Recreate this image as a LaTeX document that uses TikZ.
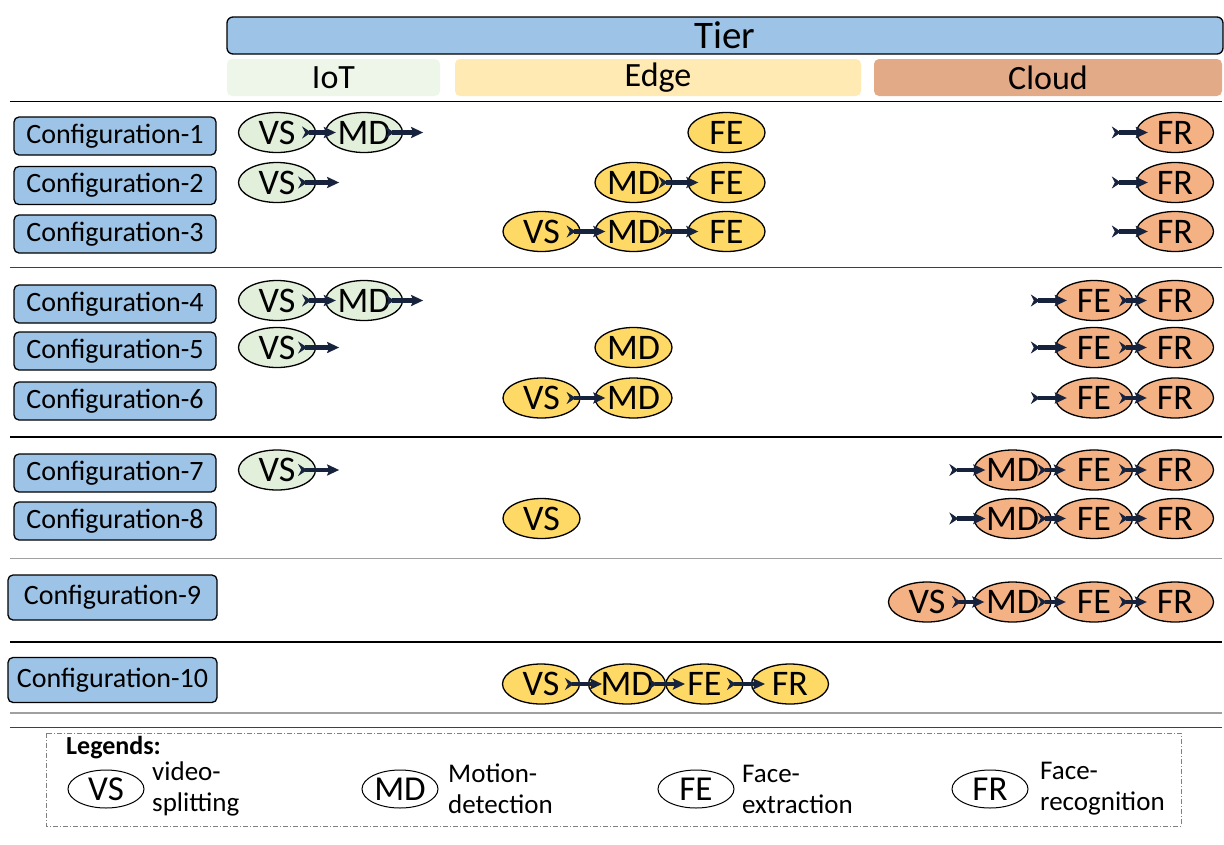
\documentclass[tikz,border=0pt]{standalone}
\usepackage{fontspec}
\setmainfont{Carlito}
\usetikzlibrary{shapes.geometric,arrows.meta,calc}
\definecolor{tierblue}{HTML}{9DC3E6}
\definecolor{iotlab}{HTML}{EEF6EA}
\definecolor{edgelab}{HTML}{FFEAB3}
\definecolor{cloudlab}{HTML}{E2AA87}
\definecolor{iotfill}{HTML}{E2EFDA}
\definecolor{edgefill}{HTML}{FFD966}
\definecolor{cloudfill}{HTML}{F4B183}
\definecolor{arrowc}{HTML}{17223D}
\definecolor{sepgray}{HTML}{A0A0A0}
\definecolor{sepdark}{HTML}{404040}
\tikzset{
  ell/.style={ellipse, draw, line width=1.3pt, minimum width=77pt, minimum height=40pt, inner sep=0pt, font=\fontsize{36}{38}\selectfont},
  iotE/.style={ell, fill=iotfill},
  edgeE/.style={ell, fill=edgefill},
  cloudE/.style={ell, fill=cloudfill},
  legE/.style={ellipse, draw, line width=1pt, fill=white, minimum width=76pt, minimum height=38pt, inner sep=0pt, font=\fontsize{35}{37}\selectfont},
  legT/.style={anchor=west, align=left, inner sep=0pt, font=\fontsize{27}{31}\selectfont},
  cfg/.style={draw, rounded corners=5pt, fill=tierblue, line width=1.3pt, minimum width=202pt, minimum height=38pt, inner sep=0pt, font=\fontsize{28}{30}\selectfont},
  cfgbig/.style={cfg, minimum width=209pt, minimum height=45pt},
  tierlab/.style={rounded corners=5pt, minimum height=37pt, inner sep=0pt, font=\fontsize{34}{36}\selectfont},
  arr/.style={draw=arrowc, line width=4.5pt, {Stealth[reversed,length=9pt,width=12pt,inset=3pt]}-{Stealth[length=12pt,width=11pt,inset=2pt]}, shorten <=-14pt, shorten >=-11pt},
  arrin/.style={arr, shorten <=0pt, shorten >=-12pt},
  arrout/.style={arr, shorten <=-18pt, shorten >=0pt},
  sep/.style={line width=1.3pt}
}
\begin{document}
\begin{tikzpicture}[x=1pt,y=-1pt]
\useasboundingbox (0,0) rectangle (1224,844);
% header
\node[draw, rounded corners=6pt, fill=tierblue, line width=1.3pt, minimum width=996pt, minimum height=37pt, inner sep=0pt, font=\fontsize{39}{41}\selectfont] (tier) at (725,35.5) {Tier};
\node[tierlab, fill=iotlab, minimum width=213pt] (tiot) at (333.5,77.5) {IoT};
\node[tierlab, fill=edgelab, minimum width=406pt] (tedge) at (658,77.5) {Edge};
\node[tierlab, fill=cloudlab, minimum width=348pt] (tcloud) at (1048,77.5) {Cloud};
% separators
\draw[sep] (10,101.5) -- (1222,101.5);
\draw[sep, draw=sepdark] (10,267.5) -- (1222,267.5);
\draw[sep] (10,437) -- (1222,437);
\draw[sep, draw=sepgray] (10,558.5) -- (1222,558.5);
\draw[sep] (10,642) -- (1222,642);
\draw[sep, draw=sepgray] (10,713) -- (1222,713);
\draw[sep, draw=sepdark] (10,727.5) -- (1222,727.5);
% configuration labels
\node[cfg] (c1) at (115,136) {Configuration-1};
\node[cfg] (c2) at (115,185.5) {Configuration-2};
\node[cfg] (c3) at (115,234) {Configuration-3};
\node[cfg] (c4) at (115,304) {Configuration-4};
\node[cfg] (c5) at (115,351) {Configuration-5};
\node[cfg] (c6) at (115,401) {Configuration-6};
\node[cfg] (c7) at (115,473) {Configuration-7};
\node[cfg] (c8) at (115,521) {Configuration-8};
\node[cfgbig] (c9) at (112.5,597.5) {Configuration-9};
\node[cfgbig] (c10) at (112.5,680) {Configuration-10};
% row 1
\node[iotE] (a1vs) at (277,132.5) {VS};
\node[iotE] (a1md) at (364,132.5) {MD};
\node[edgeE] (a1fe) at (726.5,132.5) {FE};
\node[cloudE] (a1fr) at (1175,132.5) {FR};
\coordinate (a1o) at ($(a1md.east)+(20,0)$);
\coordinate (a1i) at ($(a1fr.west)+(-24,0)$);
\draw[arr] (a1vs.east) -- (a1md.west);
\draw[arrout] (a1md.east) -- (a1o);
\draw[arrin] (a1i) -- (a1fr.west);
% row 2
\node[iotE] (a2vs) at (277,182.5) {VS};
\node[edgeE] (a2md) at (633.5,182.5) {MD};
\node[edgeE] (a2fe) at (726.5,182.5) {FE};
\node[cloudE] (a2fr) at (1175,182.5) {FR};
\coordinate (a2o) at ($(a2vs.east)+(23,0)$);
\coordinate (a2i) at ($(a2fr.west)+(-24,0)$);
\draw[arrout] (a2vs.east) -- (a2o);
\draw[arr] (a2md.east) -- (a2fe.west);
\draw[arrin] (a2i) -- (a2fr.west);
% row 3
\node[edgeE] (a3vs) at (541.5,231.5) {VS};
\node[edgeE] (a3md) at (633.5,231.5) {MD};
\node[edgeE] (a3fe) at (726.5,231.5) {FE};
\node[cloudE] (a3fr) at (1175,231.5) {FR};
\coordinate (a3i) at ($(a3fr.west)+(-24,0)$);
\draw[arr] (a3vs.east) -- (a3md.west);
\draw[arr] (a3md.east) -- (a3fe.west);
\draw[arrin] (a3i) -- (a3fr.west);
% row 4
\node[iotE] (a4vs) at (277,300.5) {VS};
\node[iotE] (a4md) at (364,300.5) {MD};
\node[cloudE] (a4fe) at (1094,300.5) {FE};
\node[cloudE] (a4fr) at (1175,300.5) {FR};
\coordinate (a4o) at ($(a4md.east)+(20,0)$);
\coordinate (a4i) at ($(a4fe.west)+(-24,0)$);
\draw[arr] (a4vs.east) -- (a4md.west);
\draw[arrout] (a4md.east) -- (a4o);
\draw[arrin] (a4i) -- (a4fe.west);
\draw[arr] (a4fe.east) -- (a4fr.west);
% row 5
\node[iotE] (a5vs) at (277,347.5) {VS};
\node[edgeE] (a5md) at (633.5,347.5) {MD};
\node[cloudE] (a5fe) at (1094,347.5) {FE};
\node[cloudE] (a5fr) at (1175,347.5) {FR};
\coordinate (a5o) at ($(a5vs.east)+(23,0)$);
\coordinate (a5i) at ($(a5fe.west)+(-24,0)$);
\draw[arrout] (a5vs.east) -- (a5o);
\draw[arrin] (a5i) -- (a5fe.west);
\draw[arr] (a5fe.east) -- (a5fr.west);
% row 6
\node[edgeE] (a6vs) at (541.5,398) {VS};
\node[edgeE] (a6md) at (633.5,398) {MD};
\node[cloudE] (a6fe) at (1094,398) {FE};
\node[cloudE] (a6fr) at (1175,398) {FR};
\coordinate (a6i) at ($(a6fe.west)+(-24,0)$);
\draw[arr] (a6vs.east) -- (a6md.west);
\draw[arrin] (a6i) -- (a6fe.west);
\draw[arr] (a6fe.east) -- (a6fr.west);
% row 7
\node[iotE] (a7vs) at (277,470) {VS};
\node[cloudE] (a7md) at (1012.5,470) {MD};
\node[cloudE] (a7fe) at (1094,470) {FE};
\node[cloudE] (a7fr) at (1175,470) {FR};
\coordinate (a7o) at ($(a7vs.east)+(23,0)$);
\coordinate (a7i) at ($(a7md.west)+(-24,0)$);
\draw[arrout] (a7vs.east) -- (a7o);
\draw[arrin] (a7i) -- (a7md.west);
\draw[arr] (a7md.east) -- (a7fe.west);
\draw[arr] (a7fe.east) -- (a7fr.west);
% row 8
\node[edgeE] (a8vs) at (541.5,518.5) {VS};
\node[cloudE] (a8md) at (1012.5,518.5) {MD};
\node[cloudE] (a8fe) at (1094,518.5) {FE};
\node[cloudE] (a8fr) at (1175,518.5) {FR};
\coordinate (a8i) at ($(a8md.west)+(-24,0)$);
\draw[arrin] (a8i) -- (a8md.west);
\draw[arr] (a8md.east) -- (a8fe.west);
\draw[arr] (a8fe.east) -- (a8fr.west);
% row 9
\node[cloudE] (a9vs) at (927,602) {VS};
\node[cloudE] (a9md) at (1012.5,602) {MD};
\node[cloudE] (a9fe) at (1094,602) {FE};
\node[cloudE] (a9fr) at (1175,602) {FR};
\draw[arr] (a9vs.east) -- (a9md.west);
\draw[arr] (a9md.east) -- (a9fe.west);
\draw[arr] (a9fe.east) -- (a9fr.west);
% row 10
\node[edgeE] (b0vs) at (541,684) {VS};
\node[edgeE] (b0md) at (627,684) {MD};
\node[edgeE] (b0fe) at (704.5,684) {FE};
\node[edgeE] (b0fr) at (790,684) {FR};
\draw[arr, shorten <=24pt, shorten >=25pt] (b0vs.center) -- (b0md.center);
\draw[arr, shorten <=21pt, shorten >=19.5pt] (b0md.center) -- (b0fe.center);
\draw[arr, shorten <=22.5pt, shorten >=25pt] (b0fe.center) -- (b0fr.center);
% legend
\draw[draw=gray, line width=1pt, dash pattern=on 5pt off 2pt on 1pt off 2pt] (46,733) rectangle (1181,826);
\node[anchor=west, inner sep=0pt, font=\fontsize{26}{28}\selectfont\bfseries] (legtitle) at (66,748) {Legends:};
\node[legE] (lvs) at (106,789) {VS};
\node[legT] (lvst) at (152,789) {video-\\splitting};
\node[legE] (lmd) at (400,789) {MD};
\node[legT] (lmdt) at (448,789) {Motion-\\detection};
\node[legE] (lfe) at (696,789) {FE};
\node[legT] (lfet) at (742,789) {Face-\\extraction};
\node[legE] (lfr) at (990,789) {FR};
\node[legT] (lfrt) at (1040,789) {Face-\\recognition};
\end{tikzpicture}
\end{document}
